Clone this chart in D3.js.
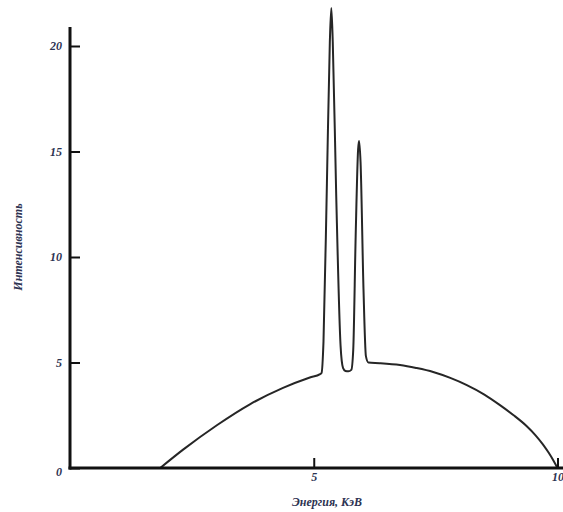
<!DOCTYPE html>
<html>
<head>
<meta charset="utf-8">
<script src="https://cdn.jsdelivr.net/npm/d3@7"></script>
<style>
  html, body { margin: 0; padding: 0; background: #ffffff; }
  svg { display: block; }
</style>
</head>
<body>
<svg id="chart" width="563" height="512"></svg>
<script>
// ---- data ----
const energy = [1.85, 2.32, 3.02, 3.69, 4.37, 4.92, 5.13, 5.16,
  5.20, 5.27, 5.33, 5.36, 5.39, 5.46, 5.55, 5.60, 5.65, 5.71, 5.77, 5.81,
  5.86, 5.91, 5.93, 5.96, 6.02, 6.07, 6.12, 6.35, 6.77, 7.1, 7.45, 7.8,
  8.14, 8.5, 8.82, 9.1, 9.37, 9.55, 9.70, 9.82, 9.91, 10.0];
const intensity = [0, 0.87, 2.04, 3.02, 3.80, 4.29, 4.45, 4.5,
  6.0, 13.5, 20.2, 21.8, 20.2, 13.0, 5.8, 4.75, 4.6, 4.58, 4.65, 5.6,
  11.0, 15.1, 15.5, 14.5, 8.5, 5.3, 5.0, 4.97, 4.88, 4.74, 4.55, 4.27,
  3.93, 3.48, 2.98, 2.50, 1.98, 1.55, 1.12, 0.72, 0.38, 0];
const xTicks = [5, 10];
const yTicks = [0, 5, 10, 15, 20];
const xLabel = "Энергия, КэВ";
const yLabel = "Интенсивность";

// ---- drawing ----
const svg = d3.select("#chart");
const x = d3.scaleLinear().domain([0, 10]).range([70, 557.5]);
const y = d3.scaleLinear().domain([0, 20]).range([468, 46]);
const textColor = "#2d3352";
const font = "'Liberation Serif', 'DejaVu Serif', serif";

// curve
const line = d3.line()
  .x((d, i) => x(energy[i]))
  .y((d, i) => y(intensity[i]))
  .curve(d3.curveMonotoneX);
svg.append("path")
  .datum(intensity)
  .attr("d", line)
  .attr("fill", "none")
  .attr("stroke", "#262626")
  .attr("stroke-width", 2)
  .attr("stroke-linejoin", "round");

// y axis
const yAxis = d3.axisLeft(y).tickValues(yTicks).tickSizeInner(-10).tickSizeOuter(0).tickPadding(8);
const gy = svg.append("g").attr("transform", "translate(70,0)").call(yAxis);
gy.select(".domain").remove();
gy.selectAll(".tick line").attr("stroke", "#111").attr("stroke-width", 2);
gy.selectAll(".tick text")
  .attr("fill", textColor)
  .style("font-family", font)
  .style("font-style", "italic")
  .style("font-weight", "bold")
  .style("font-size", "12px");
gy.selectAll(".tick").filter(d => d === 0).select("text").attr("dy", "0.65em");

// x axis
const xAxis = d3.axisBottom(x).tickValues(xTicks).tickSizeInner(-10).tickSizeOuter(0).tickPadding(4);
const gx = svg.append("g").attr("transform", "translate(0,468)").call(xAxis);
gx.select(".domain").remove();
gx.selectAll(".tick line").attr("stroke", "#111").attr("stroke-width", 2);
gx.selectAll(".tick text")
  .attr("fill", textColor)
  .style("font-family", font)
  .style("font-style", "italic")
  .style("font-weight", "bold")
  .style("font-size", "12px");

// axis lines
svg.append("line").attr("x1", 70).attr("x2", 70).attr("y1", 27).attr("y2", 469.5)
  .attr("stroke", "#111").attr("stroke-width", 3);
svg.append("line").attr("x1", 68.5).attr("x2", 563).attr("y1", 468).attr("y2", 468)
  .attr("stroke", "#111").attr("stroke-width", 3);

// axis titles
svg.append("text")
  .attr("x", 327).attr("y", 506)
  .attr("text-anchor", "middle")
  .attr("fill", textColor)
  .style("font-family", font)
  .style("font-style", "italic")
  .style("font-weight", "bold")
  .style("font-size", "12px")
  .text(xLabel);
svg.append("text")
  .attr("transform", "translate(22,247) rotate(-90)")
  .attr("text-anchor", "middle")
  .attr("fill", textColor)
  .style("font-family", font)
  .style("font-style", "italic")
  .style("font-weight", "bold")
  .style("font-size", "12px")
  .text(yLabel);
</script>
</body>
</html>
